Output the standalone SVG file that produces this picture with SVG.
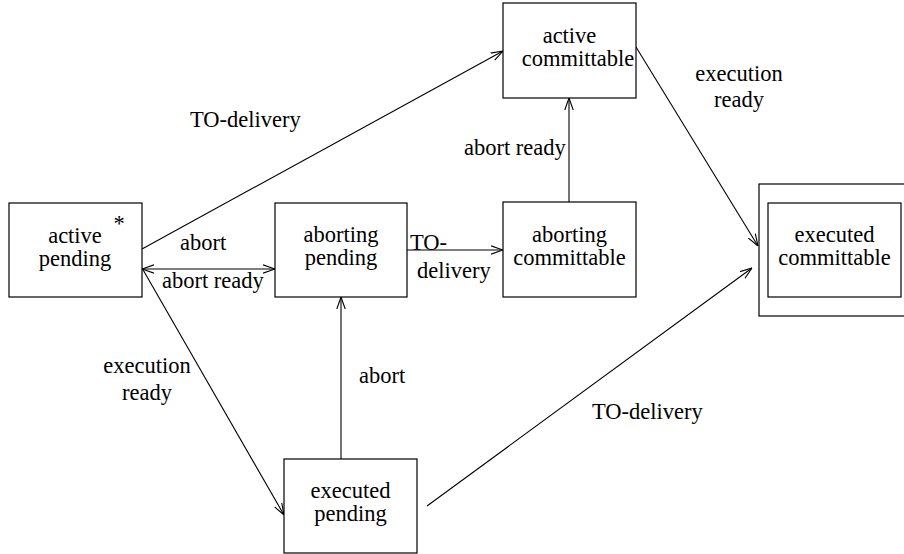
<svg xmlns="http://www.w3.org/2000/svg" width="904" height="554" viewBox="0 0 904 554">
<style>
  .box { fill: #fff; stroke: #000; stroke-width: 1.2; }
  text { font-size: 22.5px; fill: #000; }
  .c { text-anchor: middle; }
  .edge { stroke: #000; stroke-width: 1.1; fill: none; }
</style>
<defs>
  <marker id="arr" viewBox="0 0 12 10" refX="12" refY="5" markerWidth="12" markerHeight="10" markerUnits="userSpaceOnUse" orient="auto-start-reverse">
    <path d="M0,0.8 L12,5 L0,9.2" fill="none" stroke="#000" stroke-width="1.1"/>
  </marker>
</defs>
<rect width="904" height="554" fill="#fff"/>
<g font-family="'Liberation Serif', 'Times New Roman', Tinos, serif">
<g id="connectors">
  <line class="edge" x1="142" y1="249" x2="503" y2="51" marker-end="url(#arr)"/>
  <line class="edge" x1="142" y1="269" x2="275" y2="269" marker-start="url(#arr)" marker-end="url(#arr)"/>
  <line class="edge" x1="142" y1="268" x2="284" y2="515" marker-end="url(#arr)"/>
  <line class="edge" x1="407" y1="250" x2="503" y2="250" marker-end="url(#arr)"/>
  <line class="edge" x1="569" y1="202" x2="569" y2="98" marker-end="url(#arr)"/>
  <line class="edge" x1="636" y1="47" x2="758" y2="246" marker-end="url(#arr)"/>
  <line class="edge" x1="427" y1="506" x2="752" y2="268" marker-end="url(#arr)"/>
  <line class="edge" x1="341" y1="459" x2="341" y2="297" marker-end="url(#arr)"/>
  <text x="190" y="127">TO-delivery</text>
  <text x="180" y="250">abort</text>
  <text x="162" y="288">abort ready</text>
  <text x="410" y="250">TO-</text>
  <text x="417" y="278">delivery</text>
  <text x="464" y="155">abort ready</text>
  <text class="c" x="739" y="81">execution</text>
  <text class="c" x="739" y="107">ready</text>
  <text class="c" x="147" y="373">execution</text>
  <text class="c" x="147" y="400">ready</text>
  <text x="359" y="383">abort</text>
  <text x="592" y="419">TO-delivery</text>
</g>

<g id="active-pending">
  <rect class="box" x="9" y="203" width="133" height="94"/>
  <text class="c" x="75" y="243">active</text>
  <text class="c" x="75" y="266">pending</text>
  <text class="c" x="119" y="231">*</text>
</g>
<g id="aborting-pending">
  <rect class="box" x="275" y="203" width="132" height="94"/>
  <text class="c" x="341" y="242">aborting</text>
  <text class="c" x="341" y="265">pending</text>
</g>
<g id="aborting-committable">
  <rect class="box" x="503" y="202" width="133" height="95"/>
  <text class="c" x="569.5" y="242">aborting</text>
  <text class="c" x="569.5" y="265">committable</text>
</g>
<g id="active-committable">
  <rect class="box" x="503" y="3" width="133" height="95"/>
  <text class="c" x="569.5" y="43">active</text>
  <text class="c" x="578" y="66">committable</text>
</g>
<g id="executed-committable">
  <rect class="box" x="759" y="184" width="160" height="132"/>
  <rect class="box" x="768" y="203" width="133" height="94"/>
  <text class="c" x="834.5" y="242">executed</text>
  <text class="c" x="834.5" y="265">committable</text>
</g>
<g id="executed-pending">
  <rect class="box" x="284" y="459" width="133" height="94"/>
  <text class="c" x="350.5" y="498">executed</text>
  <text class="c" x="350.5" y="521">pending</text>
</g>
</g>
</svg>
